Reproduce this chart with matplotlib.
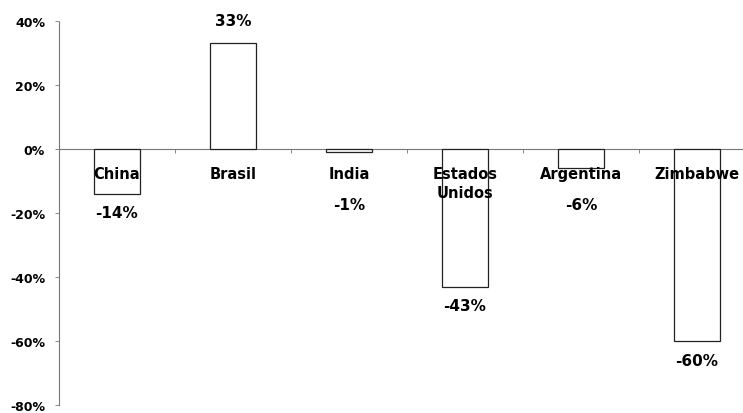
import numpy as np
import matplotlib
matplotlib.use("Agg")
import matplotlib.pyplot as plt

countries = ["China", "Brasil", "India", "Estados\nUnidos", "Argentina", "Zimbabwe"]
changes = [-0.14, 0.33, -0.01, -0.43, -0.06, -0.60]
value_labels = ["-14%", "33%", "-1%", "-43%", "-6%", "-60%"]
yticks = [0.4, 0.2, 0.0, -0.2, -0.4, -0.6, -0.8]
ytick_labels = ["40%", "20%", "0%", "-20%", "-40%", "-60%", "-80%"]

plt.rcParams['font.family'] = ['DejaVu Sans']
plt.rcParams['font.weight'] = 'bold'

fig = plt.figure(figsize=(7.43, 4.14), dpi=100)
# the right side of the plot area runs past the figure edge, as in the original
ax = fig.add_axes([59 / 743, 1 - 406 / 414, 696 / 743, 384 / 414])

x = np.arange(len(countries))
ax.bar(x, changes, width=0.4, color='white', edgecolor='#222222', linewidth=0.9, zorder=3)

ax.set_xlim(-0.5, len(countries) - 0.5)
ax.set_ylim(-0.8, 0.4)

for spine in ['top', 'right']:
    ax.spines[spine].set_visible(False)
ax.spines['bottom'].set_position(('data', 0))
ax.spines['bottom'].set_color('#777777')
ax.spines['bottom'].set_linewidth(0.8)
ax.spines['bottom'].set_linestyle((0, (1, 1)))
ax.spines['left'].set_color('#777777')
ax.spines['left'].set_linewidth(0.8)
ax.spines['left'].set_linestyle((0, (1, 1)))

ax.set_yticks(yticks)
ax.set_yticklabels(ytick_labels, fontsize=9, fontweight='bold')
ax.tick_params(axis='y', length=3, width=0.6, color='#777777', pad=7)

ax.set_xticks(x[:-1] + 0.5)
ax.set_xticklabels([])
ax.tick_params(axis='x', length=3, width=0.6, color='#777777', direction='out')

for xi, name in zip(x, countries):
    ax.text(xi, -0.052, name, ha='center', va='top', fontsize=10.5,
            fontweight='bold', linespacing=1.35, zorder=4)

for xi, v, lab in zip(x, changes, value_labels):
    if v >= 0:
        y = v + 0.07
    else:
        y = min(v - 0.06, -0.172)
    ax.text(xi, y, lab, ha='center', va='center', fontsize=11, fontweight='bold', zorder=4)

fig.savefig("out.png", dpi=100)
